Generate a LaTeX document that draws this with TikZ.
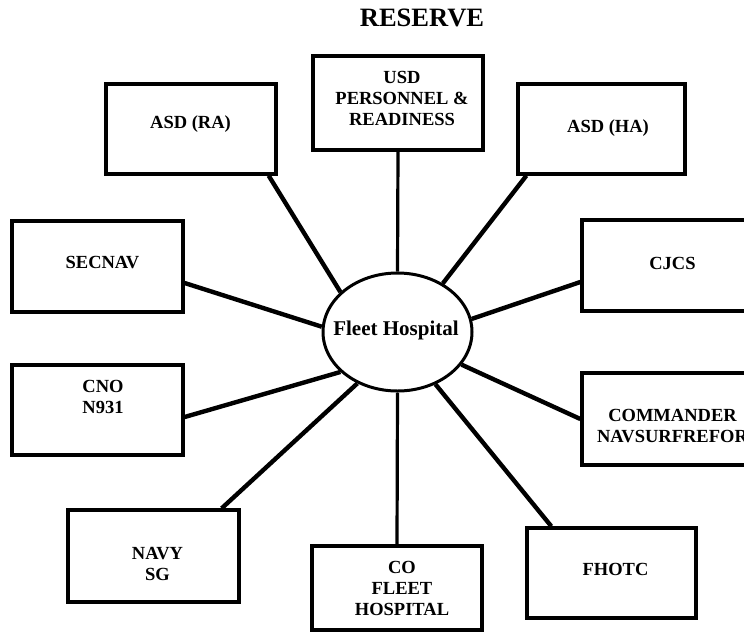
\documentclass[tikz,border=0pt]{standalone}
\usepackage{fontspec}
\setmainfont{Liberation Serif}
\usetikzlibrary{backgrounds,shapes.geometric}
\tikzset{
  box/.style={draw, line width=3.3pt, inner sep=0pt, fill=white},
  lbl/.style={align=center, inner sep=0pt, font=\fontsize{18.5}{21}\selectfont\bfseries},
  hub/.style={draw, ellipse, line width=3pt, fill=white, inner sep=0pt, minimum width=149pt, minimum height=118pt},
  link/.style={line width=4.4pt},
  thinlink/.style={line width=3.2pt}
}
\begin{document}
\begin{tikzpicture}[x=1pt,y=-1pt]
\useasboundingbox (0,0) rectangle (744,635);
\clip (0,0) rectangle (744,635);
\node[font=\fontsize{26.5}{30}\selectfont\bfseries, inner sep=0pt] (title) at (422,17.5) {RESERVE};
% boxes
\node[box, minimum width=170pt, minimum height=90pt] (asdra) at (191,129) {};
\node[box, minimum width=170pt, minimum height=94pt] (usd) at (398,103) {};
\node[box, minimum width=167pt, minimum height=90pt] (asdha) at (601.5,129) {};
\node[box, minimum width=171pt, minimum height=91pt] (secnav) at (97.5,266.5) {};
\node[box, minimum width=171pt, minimum height=90pt] (cno) at (97.5,410) {};
\node[box, minimum width=174pt, minimum height=91pt] (cjcs) at (669,265.5) {};
\node[box, minimum width=174pt, minimum height=92pt] (cmdr) at (669,419) {};
\node[box, minimum width=171pt, minimum height=92pt] (navy) at (153.5,556) {};
\node[box, minimum width=170pt, minimum height=84pt] (co) at (397,588) {};
\node[box, minimum width=169pt, minimum height=90pt] (fhotc) at (611.5,573) {};
\node[hub] (fh) at (397.5,332) {};
% texts
\node[lbl] (asdra-t) at (190.5,124) {ASD (RA)};
\node[lbl] (usd-t) at (402,98) {USD\\PERSONNEL \&\\READINESS};
\node[lbl] (asdha-t) at (608,128) {ASD (HA)};
\node[lbl] (secnav-t) at (102.5,263) {SECNAV};
\node[lbl] (cno-t) at (103,397) {CNO\\N931};
\node[lbl] (cjcs-t) at (672.5,263) {CJCS};
\node[lbl] (cmdr-t) at (672.5,426.5) {COMMANDER\\NAVSURFREFOR};
\node[lbl] (navy-t) at (157.5,564) {NAVY\\SG};
\node[lbl] (co-t) at (402,588.5) {CO\\FLEET\\HOSPITAL};
\node[lbl] (fhotc-t) at (615.5,569.5) {FHOTC};
\node[inner sep=0pt, font=\fontsize{21}{24}\selectfont\bfseries] (fh-t) at (396,330) {Fleet Hospital};
% connectors
\begin{pgfonlayer}{background}
\draw[link] ([xshift=-9pt]asdra.south east) -- (fh.145.3);
\draw[thinlink] (usd.south) -- (fh.north);
\draw[link] ([xshift=10pt]asdha.south west) -- (fh.47.7);
\draw[link] ([yshift=-16.5pt]secnav.east) -- (fh.176.5);
\draw[link] ([yshift=-16.5pt]cjcs.west) -- (fh.10.5);
\draw[link] ([yshift=-7pt]cno.east) -- (fh.215.7);
\draw[link] (cmdr.west) -- (fh.333.4);
\draw[link] ([xshift=-19pt]navy.north east) -- (fh.232.6);
\draw[thinlink] (co.north) -- (fh.south);
\draw[link] ([xshift=26pt]fhotc.north west) -- (fh.306.7);
\end{pgfonlayer}
\end{tikzpicture}
\end{document}
